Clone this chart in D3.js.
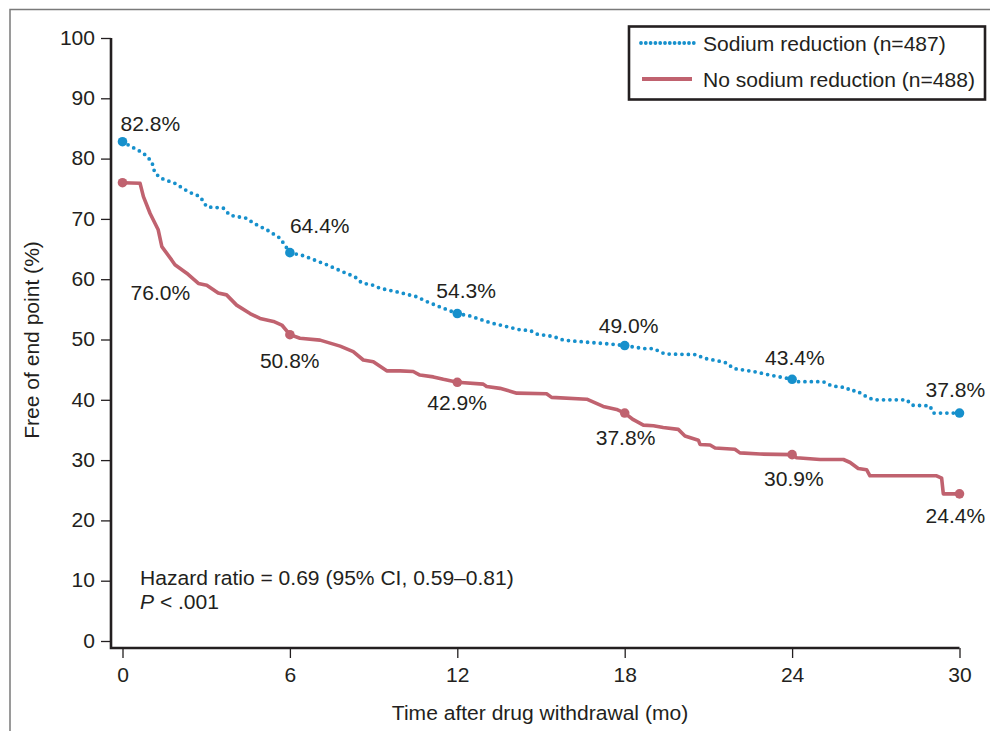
<!DOCTYPE html>
<html>
<head>
<meta charset="utf-8">
<script src="https://cdn.jsdelivr.net/npm/d3@7"></script>
<style>
  html, body { margin: 0; padding: 0; background: #fff; }
  svg text { font-family: "Liberation Sans", Arial, Helvetica, sans-serif; fill: #231f20; }
</style>
</head>
<body>
<svg id="chart" width="990" height="731"></svg>
<script>
// Kaplan-Meier estimates, months after drug withdrawal vs. % free of end point
const sodiumMonths = [0, 0.27, 0.75, 1.05, 1.16, 1.40, 1.88, 2.36, 2.78, 3.02, 3.61, 3.85, 4.45, 4.69, 5.17, 5.65, 6,
  6.48, 7.32, 7.91, 8.33, 8.57, 8.99, 9.23, 9.83, 10.54, 10.90, 11.38, 12,
  12.46, 13.17, 13.89, 14.25, 14.61, 14.85, 15.44, 15.80, 16.52, 17.35, 18,
  18.67, 19.03, 19.44, 20.58, 20.82, 21.30, 21.66, 21.89, 22.61, 23.21, 24,
  24.16, 25.12, 25.42, 25.96, 26.08, 26.32, 26.55, 26.91, 28.11, 28.29, 28.94, 29.06, 30];
const sodiumValues = [82.8, 82.1, 80.9, 79.5, 77.6, 76.7, 75.9, 74.5, 73.7, 72.0, 71.8, 70.6, 70.1, 69.3, 68.2, 66.8, 64.4,
  63.9, 62.4, 61.2, 60.4, 59.4, 59.0, 58.5, 57.9, 57.1, 56.3, 55.4, 54.3,
  53.9, 52.8, 52.0, 51.6, 51.5, 50.9, 50.5, 49.9, 49.6, 49.3, 49.0,
  48.5, 48.5, 47.6, 47.5, 46.9, 46.5, 46.1, 45.2, 44.7, 44.1, 43.4,
  43.0, 43.0, 42.3, 42.0, 41.5, 41.5, 40.8, 40.0, 40.0, 39.1, 39.0, 37.8, 37.8];

const noSodiumMonths = [0, 0.63, 0.75, 0.99, 1.28, 1.41, 1.76, 1.88, 2.30, 2.72, 3.02, 3.43, 3.73, 4.09, 4.57, 4.93, 5.41, 5.71, 6,
  6.36, 7.08, 7.80, 8.27, 8.63, 8.99, 9.47, 9.95, 10.42, 10.66, 11.14, 11.50, 12,
  12.93, 13.05, 13.53, 14.13, 15.20, 15.38, 16.64, 17.23, 17.71, 18,
  18.31, 18.67, 19.03, 19.38, 19.92, 20.16, 20.64, 20.70, 21.06, 21.24, 21.95, 22.13, 22.85, 24,
  24.16, 25.00, 25.84, 26.08, 26.37, 26.67, 26.79, 29.18, 29.36, 29.42, 30];
const noSodiumValues = [76.0, 75.9, 73.7, 70.9, 68.2, 65.4, 63.2, 62.4, 61.0, 59.3, 59.0, 57.7, 57.4, 55.7, 54.3, 53.5, 53.0, 52.4, 50.8,
  50.2, 49.9, 48.9, 48.0, 46.6, 46.3, 44.8, 44.8, 44.7, 44.1, 43.8, 43.4, 42.9,
  42.6, 42.2, 41.9, 41.1, 41.0, 40.4, 40.1, 38.9, 38.4, 37.8,
  36.7, 35.8, 35.7, 35.4, 35.1, 34.0, 33.3, 32.6, 32.5, 32.0, 31.8, 31.2, 31.0, 30.9,
  30.4, 30.1, 30.1, 29.6, 28.6, 28.4, 27.4, 27.4, 27.0, 24.4, 24.4];

// Marked time points with their labelled survival rates
const markMonths = [0, 6, 12, 18, 24, 30];
const sodiumMarks = [82.8, 64.4, 54.3, 49.0, 43.4, 37.8];
const noSodiumMarks = [76.0, 50.8, 42.9, 37.8, 30.9, 24.4];

const xTicks = [0, 6, 12, 18, 24, 30];
const yTicks = [0, 10, 20, 30, 40, 50, 60, 70, 80, 90, 100];

const seriesNames = ["Sodium reduction (n=487)", "No sodium reduction (n=488)"];
const hazardText = "Hazard ratio = 0.69 (95% CI, 0.59\u20130.81)";

// Label placement relative to each marker (pixels)
const sodiumLabelOffsets = [[-2, -11], [0, -20], [-21, -16], [-26, -13], [-27, -14], [-34, -16]];
const noSodiumLabelOffsets = [[8, 117], [-30, 33], [-30, 28], [-29, 32], [-28, 31], [-34, 29]];

const BLUE = "#1690cc";
const RED = "#c0626f";
const INK = "#231f20";
const FONT_SIZE = 19.5;
const WIDEN = 1.08;   // the typeface is set slightly wide

const svg = d3.select("#chart");

// text helper: positioned group so the horizontal widening keeps the anchor in place
function label(parent, px, py, str, anchor = "start", rotate = 0) {
  const t = parent.append("text")
    .attr("transform", `translate(${px},${py}) rotate(${rotate}) scale(${WIDEN},1)`)
    .attr("text-anchor", anchor).attr("font-size", FONT_SIZE);
  if (str !== null) t.text(str);
  return t;
}

// page frame
svg.append("path")
  .attr("d", "M10,731 V9.5 H990")
  .attr("fill", "none").attr("stroke", "#7a7a7a").attr("stroke-width", 1.5);

const x = d3.scaleLinear().domain([0, 30]).range([122.5, 959.5]);
const y = d3.scaleLinear().domain([0, 100]).range([641, 38]);

const axisX = 111, axisY = 648;

// y axis
const gy = svg.append("g").attr("transform", `translate(${axisX},0)`)
  .call(d3.axisLeft(y).tickValues(yTicks).tickSize(10).tickPadding(6).tickFormat(d3.format("d")));
gy.select(".domain").remove();
gy.selectAll(".tick line").attr("stroke", INK).attr("stroke-width", 1.3);
gy.selectAll(".tick text").attr("font-size", FONT_SIZE).attr("fill", INK)
  .attr("x", -16 / WIDEN).attr("transform", `scale(${WIDEN},1)`)
  .style("font-family", "'Liberation Sans', Arial, sans-serif");

// x axis
const gx = svg.append("g").attr("transform", `translate(0,${axisY})`)
  .call(d3.axisBottom(x).tickValues(xTicks).tickSize(10).tickPadding(10.5).tickFormat(d3.format("d")));
gx.select(".domain").remove();
gx.selectAll(".tick line").attr("stroke", INK).attr("stroke-width", 1.3);
gx.selectAll(".tick text").attr("font-size", FONT_SIZE).attr("fill", INK)
  .attr("transform", `scale(${WIDEN},1)`)
  .style("font-family", "'Liberation Sans', Arial, sans-serif");

// axis lines
svg.append("path")
  .attr("d", `M${axisX},${y(100)} V${axisY} H${x(30)}`)
  .attr("fill", "none").attr("stroke", INK).attr("stroke-width", 2.6);

// axis titles
label(svg, 39, 340, "Free of end point (%)", "middle", -90);
label(svg, 540, 720, "Time after drug withdrawal (mo)", "middle");

// curves
const line = d3.line().x(d => x(d[0])).y(d => y(d[1])).curve(d3.curveLinear);
const sodiumPts = d3.zip(sodiumMonths, sodiumValues);
const noSodiumPts = d3.zip(noSodiumMonths, noSodiumValues);

svg.append("path").datum(noSodiumPts)
  .attr("d", line).attr("fill", "none")
  .attr("stroke", RED).attr("stroke-width", 3.6)
  .attr("stroke-linejoin", "round").attr("stroke-linecap", "round");

svg.append("path").datum(sodiumPts)
  .attr("d", line).attr("fill", "none")
  .attr("stroke", BLUE).attr("stroke-width", 3.8)
  .attr("stroke-dasharray", "0 6.4").attr("stroke-linecap", "round");

// markers and labels
function marks(values, offsets, color) {
  const data = d3.zip(markMonths, values, offsets);
  svg.append("g").selectAll("circle").data(data).join("circle")
    .attr("cx", d => x(d[0])).attr("cy", d => y(d[1])).attr("r", 4.8).attr("fill", color);
  const g = svg.append("g");
  data.forEach(d => label(g, x(d[0]) + d[2][0], y(d[1]) + d[2][1], d3.format(".1f")(d[1]) + "%"));
}
marks(noSodiumMarks, noSodiumLabelOffsets, RED);
marks(sodiumMarks, sodiumLabelOffsets, BLUE);

// hazard ratio note
label(svg, 140, 585, hazardText);
const pLine = label(svg, 140, 609, null);
pLine.append("tspan").attr("font-style", "italic").text("P");
pLine.append("tspan").text(" < .001");

// legend
const legend = svg.append("g");
legend.append("rect")
  .attr("x", 629).attr("y", 26.5).attr("width", 356).attr("height", 73)
  .attr("fill", "#fff").attr("stroke", INK).attr("stroke-width", 2.6);
legend.append("line")
  .attr("x1", 641).attr("x2", 694).attr("y1", 43).attr("y2", 43)
  .attr("stroke", BLUE).attr("stroke-width", 3.8)
  .attr("stroke-dasharray", "0 4.8").attr("stroke-linecap", "round");
legend.append("line")
  .attr("x1", 642).attr("x2", 692).attr("y1", 79).attr("y2", 79)
  .attr("stroke", RED).attr("stroke-width", 4);
label(legend, 703, 51, seriesNames[0]);
label(legend, 703, 86.5, seriesNames[1]);
</script>
</body>
</html>
